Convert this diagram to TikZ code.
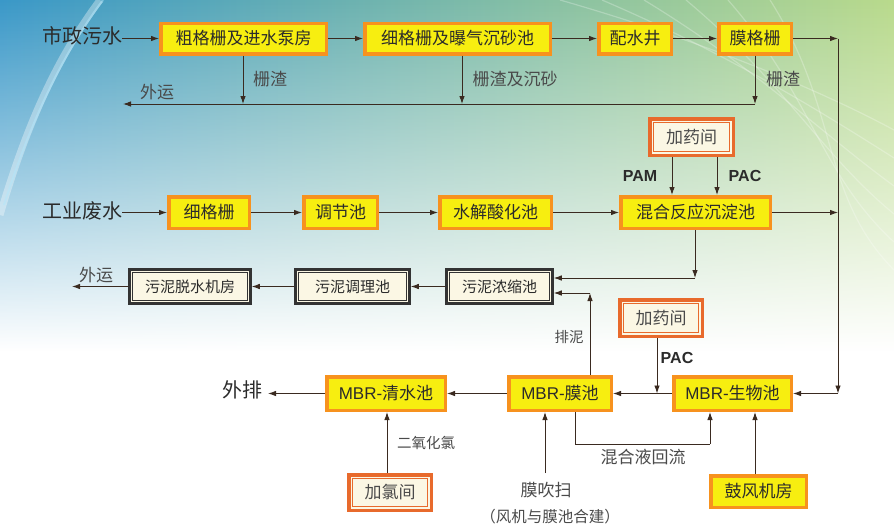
\documentclass[tikz,border=0pt]{standalone}
\usepackage{fontspec}
\setmainfont{Noto Sans CJK SC}
\newfontfamily\lat{Liberation Sans}
\usetikzlibrary{arrows.meta,fadings,calc}
\definecolor{ybox}{HTML}{F7EE10}
\definecolor{obox}{HTML}{F7921E}
\definecolor{cream}{HTML}{FBF7E4}
\definecolor{dkline}{HTML}{3A2A20}
\definecolor{txt}{HTML}{2B2B2B}
\definecolor{lbl}{HTML}{4A4A4A}
\definecolor{redor}{HTML}{E86A2C}
\definecolor{sgrey}{HTML}{333333}
\definecolor{bgA}{HTML}{3A98C8}
\definecolor{bgB}{HTML}{5EB0B4}
\definecolor{bgC}{HTML}{B9DA8C}
\tikzfading[name=fadedown, top color=transparent!0, middle color=transparent!30, bottom color=transparent!100]
\begin{document}
\begin{tikzpicture}[x=1pt,y=-1pt,
  sz/.style 2 args={minimum width=#1pt-3.5pt, minimum height=#2pt-3.5pt},
  ybx/.style={draw=obox, line width=3.5pt, fill=ybox, text=txt, inner sep=0pt, font=\fontsize{17}{17}\selectfont},
  sbx/.style={draw=sgrey, line width=3pt, fill=cream, text=txt, inner sep=0pt, font=\fontsize{15}{15}\selectfont,
    path picture={\draw[sgrey, line width=1pt] ([shift={(3.2pt,-3.2pt)}]path picture bounding box.north west) rectangle ([shift={(-3.2pt,3.2pt)}]path picture bounding box.south east);}},
  dbx/.style={draw=redor, line width=3.5pt, fill=cream, text=lbl, inner sep=0pt, font=\fontsize{17}{17}\selectfont,
    path picture={\draw[redor, line width=1pt] ([shift={(3.5pt,-3.5pt)}]path picture bounding box.north west) rectangle ([shift={(-3.5pt,3.5pt)}]path picture bounding box.south east);}},
  head/.style={inner sep=0pt, text=txt, font=\fontsize{20}{20}\selectfont},
  lab/.style={inner sep=0pt, text=lbl, font=\fontsize{17}{17}\selectfont},
  slab/.style={inner sep=0pt, text=lbl, font=\fontsize{14.5}{14.5}\selectfont},
  chem/.style={inner sep=0pt, text=txt, font=\lat\bfseries\fontsize{16}{16}\selectfont},
  arr/.style={draw=dkline, line width=0.9pt, -{Latex[length=8pt,width=5.5pt]}},
  ln/.style={draw=dkline, line width=0.9pt}
]
\useasboundingbox (0,0) rectangle (894,530);
% background
\fill[white] (0,0) rectangle (894,530);
\shade[left color=bgA, middle color=bgB, right color=bgC, path fading=fadedown] (0,0) rectangle (894,350);
\draw[white, opacity=0.35, line width=7pt] (0,215) .. controls (25,130) and (55,60) .. (100,0);
\draw[cyan!30, opacity=0.5, line width=2pt] (4,205) .. controls (28,130) and (58,60) .. (103,0);
\foreach \d in {0,14,28,42,56,70}{
  \draw[white, opacity=0.25, line width=1.2pt] (560+\d*3,0) .. controls (700+\d*2,40+\d) and (820,90+\d*1.5) .. (894,130+\d*2);
}
% ---- top row
\node[head] (T1) at (82,36) {市政污水};
\node[ybx, sz={169}{34}] (A) at (243.5,38.5) {粗格栅及进水泵房};
\node[ybx, sz={189}{34}] (B) at (457.5,38.5) {细格栅及曝气沉砂池};
\node[ybx, sz={76}{34}] (C) at (635,38.5) {配水井};
\node[ybx, sz={76}{34}] (D) at (755,38.5) {膜格栅};
\coordinate (R1) at (838,38.5);
\coordinate (R2) at (838,393.5);
\coordinate (R3) at (838,212.5);
\draw[arr] (T1.east |- A.west) -- (A.west);
\draw[arr] (A) -- (B);
\draw[arr] (B) -- (C);
\draw[arr] (C) -- (D);
\draw[arr] (D.east) -- (R1);
\draw[arr] (R1) -- (R2);
% screenings
\coordinate (W1) at (123,104);
\coordinate (W2) at (755,104);
\coordinate (xa) at (243,0);
\coordinate (xb) at (462,0);
\draw[arr] (A.south -| xa) -- (W1 -| xa);
\draw[arr] (B.south -| xb) -- (W1 -| xb);
\draw[arr] (D.south) -- (W2);
\draw[arr] (W2) -- (W1);
\node[lab] (L1) at (157,92) {外运};
\node[lab] (L2) at (270,79) {栅渣};
\node[lab] (L3) at (515,79) {栅渣及沉砂};
\node[lab] (L4) at (783,79) {栅渣};
% ---- middle row
\node[head] (T2) at (82,211) {工业废水};
\node[ybx, sz={84}{35}] (E) at (209,212.5) {细格栅};
\node[ybx, sz={77}{35}] (F) at (340.5,212.5) {调节池};
\node[ybx, sz={115}{35}] (G) at (495.5,212.5) {水解酸化池};
\node[ybx, sz={153}{35}] (H) at (695.5,212.5) {混合反应沉淀池};
\node[dbx, sz={87}{40}] (Y1) at (691.5,137) {加药间};
\draw[arr] (T2.east |- E.west) -- (E.west);
\draw[arr] (E) -- (F);
\draw[arr] (F) -- (G);
\draw[arr] (G) -- (H);
\draw[arr] (H.east) -- (R3);
\coordinate (p1) at (672,0);
\coordinate (p2) at (717,0);
\draw[arr] (Y1.south -| p1) -- (H.north -| p1);
\draw[arr] (Y1.south -| p2) -- (H.north -| p2);
\node[chem] (PAM) at (640,176) {PAM};
\node[chem] (PAC1) at (745,176) {PAC};
% ---- sludge row
\node[sbx, sz={124}{37}] (S1) at (190,286.5) {污泥脱水机房};
\node[sbx, sz={117}{37}] (S2) at (352.5,286.5) {污泥调理池};
\node[sbx, sz={109}{37}] (S3) at (499.5,286.5) {污泥浓缩池};
\coordinate (Q1) at (695,278);
\coordinate (Q2) at (590,293);
\coordinate (W3) at (72,286.5);
\draw[arr] (H.south -| Q1) -- (Q1);
\draw[arr] (Q1) -- (S3.east |- Q1);
\draw[arr] (S3) -- (S2);
\draw[arr] (S2) -- (S1);
\draw[arr] (S1) -- (W3);
\node[lab] (L5) at (96,275) {外运};
% ---- MBR row
\node[ybx, sz={122}{37}] (M1) at (386,393.5) {{\lat MBR-}清水池};
\node[ybx, sz={106}{37}] (M2) at (560,393.5) {{\lat MBR-}膜池};
\node[ybx, sz={121}{37}] (M3) at (732.5,393.5) {{\lat MBR-}生物池};
\node[dbx, sz={86}{40}] (Y2) at (661,318) {加药间};
\node[dbx, sz={86}{39}] (Y3) at (390,492.5) {加氯间};
\node[ybx, sz={99}{35}] (K) at (758.5,491.5) {鼓风机房};
\node[head] (T3) at (242,390) {外排};
\coordinate (W4) at (268,393.5);
\draw[arr] (R2) -- (M3.east);
\draw[arr] (M3) -- (M2);
\coordinate (p3) at (657,0);
\draw[arr] (Y2.south -| p3) -- (M3.west -| p3);
\node[chem] (PAC2) at (677,358) {PAC};
\draw[arr] (M2) -- (M1);
\draw[arr] (M1.west) -- (W4);
\draw[arr] (M2.north -| Q2) -- (Q2);
\draw[arr] (Q2) -- (S3.east |- Q2);
\node[slab] (L6) at (569,337) {排泥};
\coordinate (p4) at (387,0);
\draw[arr] (Y3.north -| p4) -- (M1.south -| p4);
\node[slab] (L7) at (426,443) {二氧化氯};
% membrane scouring
\node[lab] (L8) at (546,490) {膜吹扫};
\node[lab, font=\fontsize{15.5}{15.5}\selectfont] (L9) at (550,517) {（风机与膜池合建）};
\coordinate (p5) at (545,473);
\draw[arr] (p5) -- (M2.south -| p5);
% mixed liquor return
\coordinate (U1) at (575,444);
\coordinate (U2) at (710,444);
\draw[ln] (M2.south -| U1) -- (U1) -- (U2);
\draw[arr] (U2) -- (M3.south -| U2);
\node[lab] (L10) at (643,457) {混合液回流};
\coordinate (p6) at (755,0);
\draw[arr] (K.north -| p6) -- (M3.south -| p6);
\end{tikzpicture}
\end{document}
